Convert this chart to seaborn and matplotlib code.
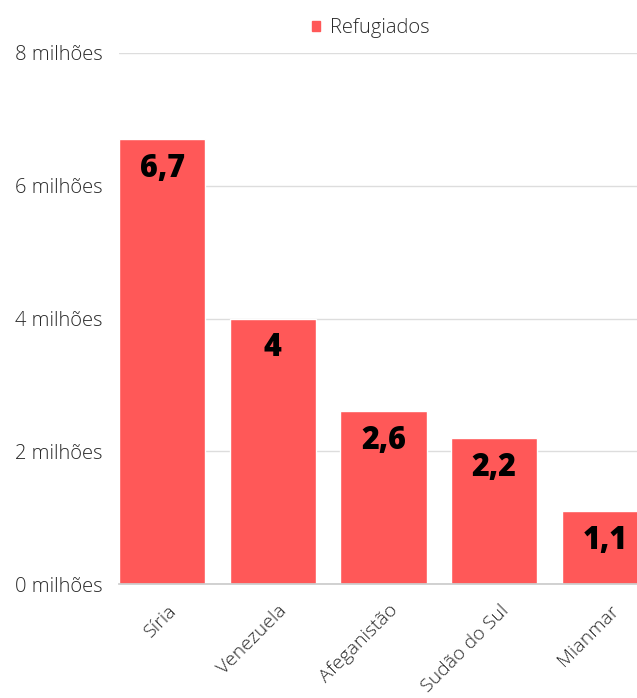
import matplotlib
matplotlib.use("Agg")
import matplotlib.pyplot as plt
import matplotlib.transforms as mtrans
from matplotlib.patches import Patch
import seaborn as sns
import pandas as pd

paises = ["Síria", "Venezuela", "Afeganistão", "Sudão do Sul", "Mianmar"]
refugiados = [6.7, 4.0, 2.6, 2.2, 1.1]
rotulos = ["6,7", "4", "2,6", "2,2", "1,1"]
yticks = [0, 2, 4, 6, 8]
ytick_labels = ["0 milhões", "2 milhões", "4 milhões", "6 milhões", "8 milhões"]

sns.set_theme(style="white")
plt.rcParams["font.family"] = ["Open Sans", "DejaVu Sans"]

df = pd.DataFrame({"pais": paises, "valor": refugiados, "serie": "Refugiados"})
color = "#FF5858"
txtc = "#2a2a2a"
fs = 14.5

fig = plt.figure(figsize=(6.37, 6.98), dpi=100)
ax = fig.add_axes([119/637, 114/698, 1 - 119/637, (584-53)/698])
sns.barplot(data=df, x="pais", y="valor", hue="serie", palette=[color],
            width=0.78, ax=ax, legend=False, saturation=1)
ax.set_ylim(0, 8)
ax.set_xlim(-0.39, 4.29)
ax.set_yticks(yticks)
ax.set_yticklabels(ytick_labels, fontsize=fs, color=txtc, fontweight="light")
ax.yaxis.grid(True, color="#dddddd", linewidth=1)
ax.set_axisbelow(True)
for s in ["top", "right", "left"]:
    ax.spines[s].set_visible(False)
ax.spines["bottom"].set_color("#cccccc")
ax.tick_params(axis="y", length=0, pad=12)
ax.tick_params(axis="x", length=0, pad=12.5)
ax.set_xlabel("")
ax.set_ylabel("")
ax.set_xticks(range(len(paises)))
ax.set_xticklabels(paises, rotation=45, ha="right", rotation_mode="anchor",
                   fontsize=14, color=txtc, fontweight="light")
offset = mtrans.ScaledTranslation(5/100, 0, fig.dpi_scale_trans)
for lbl in ax.get_xticklabels():
    lbl.set_transform(lbl.get_transform() + offset)

for i, (v, t) in enumerate(zip(refugiados, rotulos)):
    ax.annotate(t, xy=(i, v), xytext=(0, -10), textcoords="offset points",
                ha="center", va="top", fontsize=22, fontweight="heavy", color="black")

ax.legend(handles=[Patch(color=color, label="Refugiados")], loc="center",
          bbox_to_anchor=((371-119)/(637-119), (584-28)/(584-53)),
          frameon=False, handlelength=0.38, handleheight=0.38,
          handletextpad=0.5, labelcolor=txtc, prop={"weight": "light", "size": fs})

fig.savefig("out.png", dpi=100)
